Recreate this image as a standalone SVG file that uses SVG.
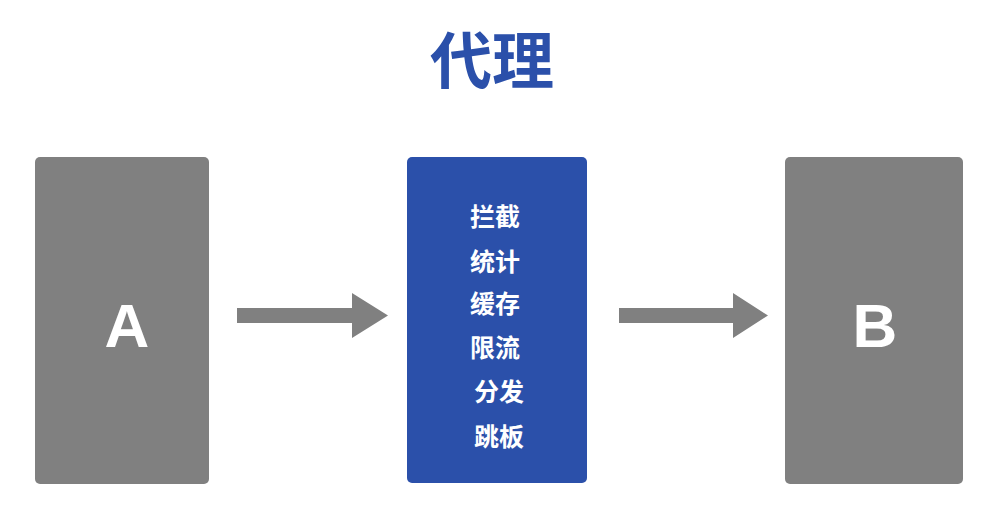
<svg xmlns="http://www.w3.org/2000/svg" width="991" height="516" viewBox="0 0 991 516">
<style>
.box{fill:#808080}
.proxy{fill:#2b50aa}
.big{font-family:"Liberation Sans",Arial,sans-serif;font-weight:bold;font-size:62px;fill:#fff;text-anchor:middle}
.item{font-family:"Noto Sans CJK SC","Noto Sans",sans-serif;font-weight:bold;font-size:25px;fill:#fff;text-anchor:middle}
.title{font-family:"Noto Sans CJK SC",sans-serif;font-weight:bold;font-size:62px;fill:#2b50aa;text-anchor:middle}
.arrow{fill:#808080}
</style>
<rect width="991" height="516" fill="#fff"/>
<text class="title" x="492" y="84">代理</text>
<g id="nodeA">
<rect class="box" x="35" y="157" width="174" height="327" rx="5"/>
<text class="big" x="127" y="347">A</text>
</g>
<g id="proxy">
<rect class="proxy" x="407" y="157" width="180" height="326" rx="5"/>
<text class="item" x="495" y="226">拦截</text>
<text class="item" x="495" y="271">统计</text>
<text class="item" x="495" y="313">缓存</text>
<text class="item" x="495" y="357">限流</text>
<text class="item" x="499" y="401">分发</text>
<text class="item" x="499" y="446">跳板</text>
</g>
<g id="nodeB">
<rect class="box" x="785" y="157" width="178" height="327" rx="5"/>
<text class="big" x="875" y="347">B</text>
</g>
<g id="connectors">
<polygon class="arrow" points="237,308 352,308 352,293 388,315.5 352,338 352,323 237,323"/>
<polygon class="arrow" points="619,308 733,308 733,293 768,315.5 733,338 733,323 619,323"/>
</g>
</svg>
